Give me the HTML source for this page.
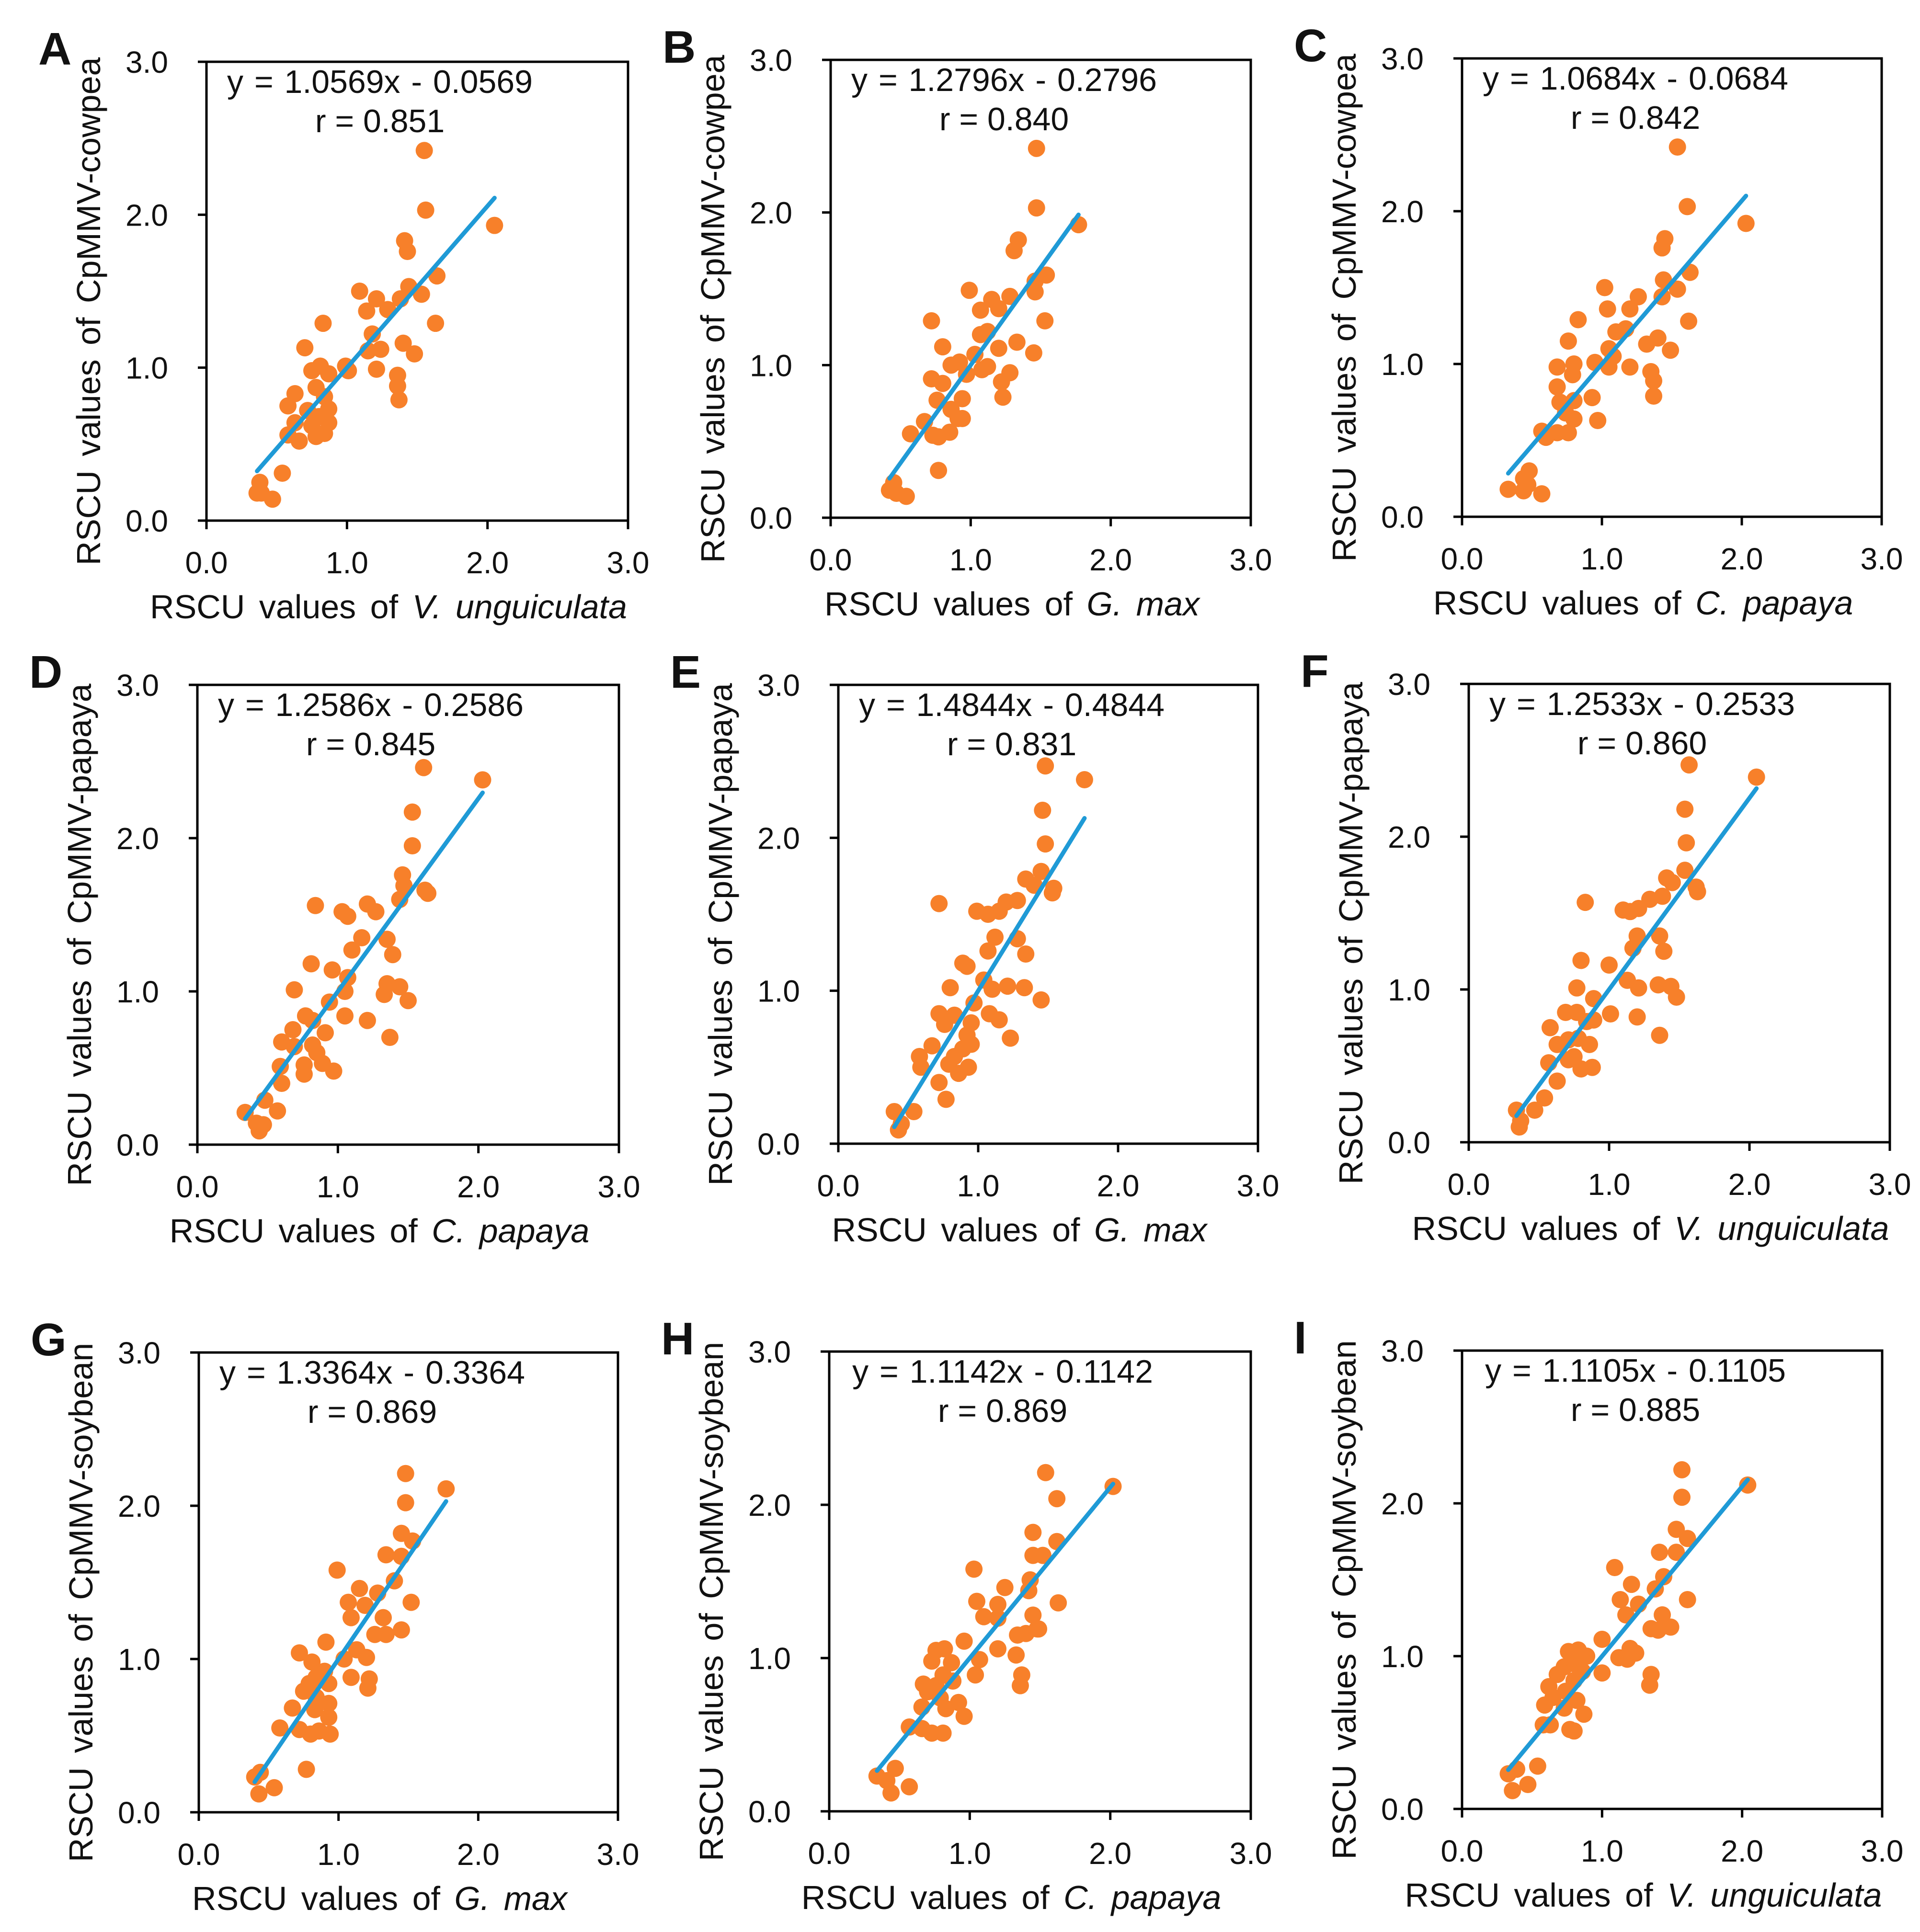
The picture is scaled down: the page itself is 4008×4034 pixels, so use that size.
<!DOCTYPE html>
<html>
<head>
<meta charset="utf-8">
<style>
html,body{margin:0;padding:0;background:#fff;}
svg{display:block;}
text{font-family:"Liberation Sans",Arial,sans-serif;fill:#111;}
</style>
</head>
<body>
<svg id="fig" width="4008" height="4034" viewBox="0 0 4008 4034" xmlns="http://www.w3.org/2000/svg">
<rect x="0" y="0" width="4008" height="4034" fill="#ffffff"/>
</svg>
<script>
// ---- data ----
const tickValues = [0, 1, 2, 3];
const tickLabels = ["0.0", "1.0", "2.0", "3.0"];
const panelLetters = ["A","B","C","D","E","F","G","H","I"];
const slopes = [1.0569, 1.2796, 1.0684, 1.2586, 1.4844, 1.2533, 1.3364, 1.1142, 1.1105];
const intercepts = [-0.0569, -0.2796, -0.0684, -0.2586, -0.4844, -0.2533, -0.3364, -0.1142, -0.1105];
const equationLabels = ["y = 1.0569x - 0.0569","y = 1.2796x - 0.2796","y = 1.0684x - 0.0684","y = 1.2586x - 0.2586","y = 1.4844x - 0.4844","y = 1.2533x - 0.2533","y = 1.3364x - 0.3364","y = 1.1142x - 0.1142","y = 1.1105x - 0.1105"];
const rLabels = ["r = 0.851","r = 0.840","r = 0.842","r = 0.845","r = 0.831","r = 0.860","r = 0.869","r = 0.869","r = 0.885"];
const xSpecies = ["V. unguiculata","G. max","C. papaya","C. papaya","G. max","V. unguiculata","G. max","C. papaya","V. unguiculata"];
const yVirus = ["CpMMV-cowpea","CpMMV-cowpea","CpMMV-cowpea","CpMMV-papaya","CpMMV-papaya","CpMMV-papaya","CpMMV-soybean","CpMMV-soybean","CpMMV-soybean"];

const ptsA = [[1.55,2.42],[1.56,2.03],[2.05,1.93],[1.41,1.83],[1.43,1.76],[1.64,1.60],[1.44,1.53],[1.53,1.48],[1.09,1.50],[1.21,1.45],[1.14,1.37],[1.29,1.38],[1.38,1.45],[0.83,1.29],[1.63,1.29],[1.18,1.22],[1.15,1.11],[1.24,1.12],[1.40,1.16],[1.48,1.09],[0.70,1.13],[0.99,1.01],[1.01,0.98],[1.21,0.99],[1.36,0.95],[1.36,0.88],[1.37,0.79],[0.75,0.98],[0.81,1.01],[0.87,0.96],[0.78,0.87],[0.84,0.81],[0.87,0.73],[0.63,0.83],[0.58,0.75],[0.72,0.72],[0.80,0.68],[0.87,0.64],[0.63,0.64],[0.58,0.56],[0.66,0.52],[0.78,0.55],[0.84,0.57],[0.75,0.62],[0.54,0.31],[0.36,0.18],[0.38,0.25],[0.39,0.18],[0.47,0.14]];
const ptsB = [[1.47,2.42],[1.47,2.03],[1.77,1.92],[1.34,1.82],[1.31,1.75],[1.54,1.59],[1.46,1.55],[1.46,1.48],[0.99,1.49],[1.15,1.43],[1.07,1.36],[1.20,1.37],[1.28,1.45],[0.72,1.29],[1.53,1.29],[1.07,1.20],[1.12,1.22],[1.20,1.11],[1.33,1.15],[1.45,1.08],[0.80,1.12],[1.03,1.07],[1.12,0.99],[1.08,0.97],[1.28,0.95],[1.22,0.89],[1.23,0.79],[0.86,1.00],[0.92,1.02],[0.97,0.94],[0.72,0.91],[0.80,0.88],[0.76,0.77],[0.94,0.78],[0.86,0.71],[0.94,0.65],[0.91,0.65],[0.67,0.63],[0.57,0.55],[0.73,0.54],[0.77,0.53],[0.85,0.56],[0.77,0.31],[0.42,0.18],[0.45,0.23],[0.47,0.16],[0.54,0.14]];
const ptsC = [[1.54,2.42],[1.61,2.03],[2.03,1.92],[1.45,1.82],[1.43,1.76],[1.63,1.60],[1.44,1.55],[1.54,1.49],[1.43,1.44],[1.02,1.50],[1.04,1.36],[1.20,1.36],[1.26,1.44],[0.83,1.29],[1.62,1.28],[1.10,1.21],[1.17,1.23],[1.05,1.10],[1.08,1.05],[1.32,1.13],[1.40,1.17],[1.49,1.09],[0.76,1.15],[1.20,0.98],[0.95,1.01],[1.05,0.98],[1.35,0.95],[1.37,0.89],[1.37,0.79],[0.68,0.98],[0.80,1.00],[0.79,0.93],[0.68,0.85],[0.93,0.78],[0.80,0.76],[0.70,0.75],[0.97,0.63],[0.80,0.64],[0.74,0.68],[0.57,0.56],[0.60,0.52],[0.68,0.55],[0.76,0.55],[0.48,0.30],[0.44,0.25],[0.47,0.21],[0.33,0.18],[0.44,0.17],[0.57,0.15]];
const ptsD = [[1.61,2.46],[2.03,2.38],[1.53,2.17],[1.53,1.95],[1.46,1.76],[1.47,1.69],[1.44,1.60],[1.62,1.66],[1.64,1.64],[0.84,1.56],[1.03,1.52],[1.07,1.49],[1.21,1.57],[1.27,1.52],[1.17,1.35],[1.35,1.34],[1.39,1.24],[1.10,1.27],[0.81,1.18],[0.96,1.14],[1.07,1.09],[1.05,1.00],[1.35,1.05],[1.44,1.03],[1.33,0.98],[1.50,0.94],[0.69,1.01],[0.94,0.93],[1.05,0.84],[1.21,0.81],[1.37,0.70],[0.77,0.84],[0.82,0.81],[0.91,0.73],[0.68,0.75],[0.60,0.67],[0.69,0.64],[0.82,0.65],[0.85,0.60],[0.89,0.53],[0.97,0.48],[0.76,0.52],[0.76,0.46],[0.59,0.51],[0.60,0.40],[0.48,0.29],[0.34,0.21],[0.57,0.22],[0.42,0.14],[0.44,0.09],[0.47,0.13]];
const ptsE = [[1.48,2.47],[1.76,2.38],[1.46,2.18],[1.48,1.96],[1.45,1.78],[1.34,1.73],[1.40,1.69],[1.54,1.67],[1.53,1.64],[0.72,1.57],[0.99,1.52],[1.07,1.50],[1.15,1.52],[1.20,1.58],[1.28,1.59],[1.12,1.35],[1.28,1.34],[1.07,1.26],[1.34,1.24],[0.89,1.18],[0.92,1.16],[1.04,1.07],[1.10,1.01],[1.21,1.03],[1.33,1.02],[1.45,0.94],[0.80,1.02],[0.97,0.92],[1.08,0.85],[1.15,0.81],[1.23,0.69],[0.72,0.85],[0.83,0.84],[0.76,0.78],[0.95,0.79],[0.92,0.71],[0.95,0.65],[0.89,0.62],[0.83,0.57],[0.67,0.64],[0.58,0.57],[0.59,0.50],[0.79,0.52],[0.86,0.46],[0.93,0.50],[0.72,0.40],[0.77,0.29],[0.40,0.21],[0.54,0.21],[0.43,0.09],[0.45,0.13]];
const ptsF = [[1.57,2.47],[2.05,2.39],[1.54,2.18],[1.55,1.96],[1.54,1.78],[1.41,1.73],[1.45,1.70],[1.62,1.67],[1.63,1.64],[0.83,1.57],[1.10,1.52],[1.15,1.51],[1.21,1.53],[1.29,1.59],[1.38,1.61],[1.20,1.35],[1.36,1.35],[1.17,1.27],[1.39,1.25],[0.80,1.19],[1.00,1.16],[0.77,1.01],[1.13,1.06],[1.21,1.01],[1.35,1.03],[1.44,1.02],[1.48,0.95],[0.89,0.94],[1.01,0.84],[1.20,0.82],[1.36,0.70],[0.69,0.85],[0.77,0.85],[0.84,0.79],[0.89,0.80],[0.58,0.75],[0.63,0.64],[0.71,0.67],[0.78,0.68],[0.86,0.64],[0.57,0.52],[0.71,0.54],[0.80,0.48],[0.88,0.49],[0.75,0.56],[0.63,0.40],[0.54,0.29],[0.47,0.21],[0.34,0.21],[0.37,0.14],[0.36,0.10]];
const ptsG = [[1.48,2.21],[1.77,2.11],[1.48,2.02],[1.45,1.82],[1.53,1.77],[1.45,1.67],[1.34,1.68],[0.99,1.58],[1.40,1.51],[1.15,1.46],[1.28,1.43],[1.07,1.37],[1.19,1.35],[1.09,1.27],[1.32,1.27],[1.52,1.37],[1.26,1.16],[1.34,1.16],[1.45,1.19],[0.91,1.11],[0.72,1.04],[1.13,1.06],[1.20,1.01],[1.04,1.00],[1.09,0.88],[1.22,0.87],[1.21,0.81],[0.81,0.98],[0.90,0.92],[0.84,0.88],[0.79,0.84],[0.93,0.84],[0.75,0.79],[0.84,0.75],[0.93,0.71],[0.83,0.67],[0.93,0.62],[0.67,0.68],[0.58,0.55],[0.72,0.54],[0.80,0.51],[0.86,0.53],[0.94,0.51],[0.77,0.28],[0.40,0.23],[0.44,0.26],[0.43,0.12],[0.54,0.16]];
const ptsH = [[1.54,2.21],[2.02,2.12],[1.62,2.04],[1.45,1.82],[1.62,1.76],[1.45,1.67],[1.52,1.67],[1.03,1.58],[1.25,1.46],[1.43,1.51],[1.42,1.44],[1.05,1.37],[1.20,1.35],[1.10,1.27],[1.20,1.26],[1.63,1.36],[1.45,1.28],[1.48,1.19],[1.49,1.19],[1.34,1.15],[1.40,1.16],[0.96,1.11],[1.20,1.06],[1.07,0.99],[1.04,0.89],[1.33,1.02],[1.37,0.89],[1.36,0.82],[0.76,1.05],[0.82,1.06],[0.73,0.98],[0.87,0.97],[0.81,0.89],[0.88,0.85],[0.76,0.82],[0.67,0.83],[0.70,0.78],[0.79,0.74],[0.66,0.68],[0.83,0.67],[0.92,0.71],[0.96,0.62],[0.57,0.55],[0.66,0.54],[0.73,0.51],[0.81,0.51],[0.34,0.23],[0.47,0.28],[0.41,0.20],[0.44,0.12],[0.57,0.16]];
const ptsI = [[1.57,2.22],[2.04,2.12],[1.57,2.04],[1.53,1.83],[1.61,1.77],[1.53,1.68],[1.41,1.68],[1.09,1.58],[1.21,1.47],[1.44,1.52],[1.38,1.44],[1.13,1.37],[1.26,1.34],[1.17,1.27],[1.61,1.37],[1.43,1.27],[1.49,1.19],[1.35,1.18],[1.40,1.17],[1.00,1.11],[1.20,1.05],[1.18,0.98],[1.24,1.02],[1.12,0.99],[1.00,0.89],[1.35,0.88],[1.34,0.81],[0.76,1.03],[0.83,1.04],[0.89,1.00],[0.80,0.95],[0.73,0.93],[0.86,0.90],[0.68,0.88],[0.80,0.84],[0.62,0.80],[0.74,0.77],[0.65,0.73],[0.82,0.71],[0.73,0.66],[0.87,0.62],[0.59,0.68],[0.58,0.55],[0.63,0.55],[0.77,0.52],[0.80,0.51],[0.54,0.28],[0.33,0.23],[0.39,0.26],[0.36,0.12],[0.47,0.16]];
const panelPoints = [ptsA, ptsB, ptsC, ptsD, ptsE, ptsF, ptsG, ptsH, ptsI];

// ---- layout (plot box pixel frames) ----
const frames = [
  {L:431,R:1311,T:129,B:1087},{L:1734,R:2611,T:125,B:1081},{L:3052,R:3928,T:122,B:1079},
  {L:412,R:1292,T:1430,B:2390},{L:1750,R:2626,T:1430,B:2388},{L:3066,R:3945,T:1428,B:2385},
  {L:415,R:1290,T:2824,B:3784},{L:1731,R:2611,T:2822,B:3782},{L:3052,R:3929,T:2820,B:3777}
];
const AX_MAX = 3;
const NS = "http://www.w3.org/2000/svg";
const svg = document.getElementById('fig');

function mk(tag, attrs, parent){
  const e = document.createElementNS(NS, tag);
  for (const k in attrs) e.setAttribute(k, attrs[k]);
  (parent || svg).appendChild(e);
  return e;
}

frames.forEach((f, i) => {
  const g = mk('g', {});
  
  
  const sx = v => f.L + v / AX_MAX * (f.R - f.L);
  const sy = v => f.B - v / AX_MAX * (f.B - f.T);

  const letter = mk('text', {x: f.L - 351, y: f.T + 6, 'font-size': 96, 'font-weight': 'bold'}, g);
  letter.textContent = panelLetters[i];
  
  

  tickValues.forEach((v, k) => {
    const ty = mk('line', {x1: f.L - 18, x2: f.L, y1: sy(v), y2: sy(v), stroke: '#000', 'stroke-width': 5}, g);
    
    
    const tx = mk('line', {x1: sx(v), x2: sx(v), y1: f.B, y2: f.B + 18, stroke: '#000', 'stroke-width': 5}, g);
    
    
    const ly = mk('text', {x: f.L - 80, y: sy(v) + 23, 'font-size': 64, 'text-anchor': 'end'}, g);
    ly.textContent = tickLabels[k];
    
    
    const lx = mk('text', {x: sx(v), y: f.B + 110, 'font-size': 64, 'text-anchor': 'middle'}, g);
    lx.textContent = tickLabels[k];
    
    
  });

  const box = mk('rect', {x: f.L, y: f.T, width: f.R - f.L, height: f.B - f.T, fill: 'none', stroke: '#000', 'stroke-width': 5}, g);
  
  

  const pts = panelPoints[i];
  pts.forEach(p => {
    const c = mk('circle', {cx: sx(p[0]), cy: sy(p[1]), r: 18, fill: '#f7802a'}, g);
    
    
  });

  const xs = pts.map(p => p[0]);
  const x0 = Math.min(...xs), x1 = Math.max(...xs);
  const ln = mk('line', {x1: sx(x0), y1: sy(slopes[i] * x0 + intercepts[i]), x2: sx(x1), y2: sy(slopes[i] * x1 + intercepts[i]), stroke: '#1f9ad6', 'stroke-width': 9, 'stroke-linecap': 'round'}, g);
  
  

  const eq = mk('text', {x: f.L + 362, y: f.T + 65, 'font-size': 68, 'text-anchor': 'middle', 'word-spacing': 4}, g);
  eq.textContent = equationLabels[i];
  
  
  const rr = mk('text', {x: f.L + 362, y: f.T + 147, 'font-size': 68, 'text-anchor': 'middle'}, g);
  rr.textContent = rLabels[i];
  
  

  const xt = mk('text', {x: (f.L + f.R) / 2 - 60, y: f.B + 204, 'font-size': 70, 'text-anchor': 'middle', 'word-spacing': 10}, g);
  
  
  const xt1 = mk('tspan', {}, xt);
  xt1.textContent = 'RSCU values of ';
  const xt2 = mk('tspan', {'font-style': 'italic'}, xt);
  xt2.textContent = xSpecies[i];

  const cy = (f.T + f.B) / 2 + 42;
  const yt = mk('text', {x: 0, y: 0, 'font-size': 70, 'text-anchor': 'middle', 'word-spacing': 10, transform: 'translate(' + (f.L - 222) + ',' + cy + ') rotate(-90)'}, g);
  yt.textContent = 'RSCU values of ' + yVirus[i];
  
  
});
</script>
</body>
</html>
